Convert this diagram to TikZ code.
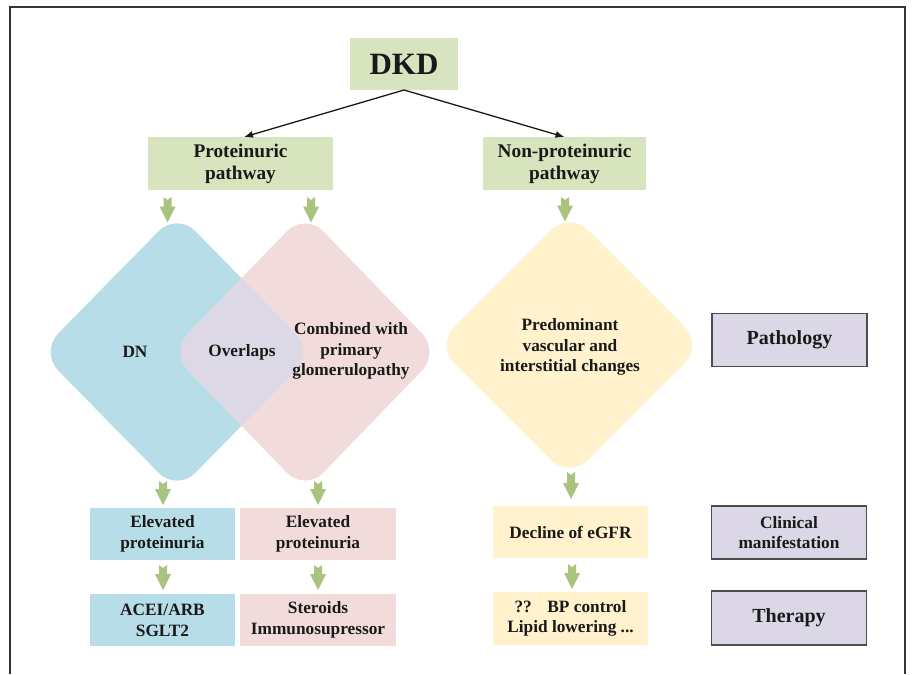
\documentclass[tikz,border=0pt]{standalone}
\usepackage{fontspec}
\setmainfont{Liberation Serif}
\usetikzlibrary{shapes.geometric,arrows.meta,calc}

\definecolor{boxgreen}{HTML}{D7E4BD}
\definecolor{dnblue}{HTML}{B7DEE8}
\definecolor{gppink}{HTML}{F2DCDB}
\definecolor{olap}{HTML}{DDD8E6}
\definecolor{vsyellow}{HTML}{FFF2CC}
\definecolor{lavender}{HTML}{DCD7E6}
\definecolor{arrowgreen}{HTML}{A9C47F}

\newcommand{\blockarrow}[2]{%
  \fill[arrowgreen] (#1) -- ++(-4,-3) -- ($(#2)+(-4,-16)$) -- ($(#2)+(-8,-16)$) -- (#2)
    -- ($(#2)+(8,-16)$) -- ($(#2)+(4,-16)$) -- ($(#1)+(4,-3)$) -- cycle;}

\begin{document}
\begin{tikzpicture}[x=1pt,y=-1pt,
    every node/.style={text=black!90,inner sep=0pt,outer sep=0pt},
    topbox/.style={rectangle,fill=boxgreen,align=center,
      font=\fontsize{19.3}{22}\selectfont\bfseries},
    box/.style={rectangle,align=center,minimum height=52pt,
      font=\fontsize{17.3}{20.7}\selectfont\bfseries},
    dmd/.style={diamond,rounded corners=26pt},
    label/.style={rectangle,fill=lavender,draw=black!70,line width=1.3pt,
      minimum width=155pt,minimum height=53pt,align=center},
    txt/.style={align=center,font=\fontsize{17.3}{20.7}\selectfont\bfseries}]
  \useasboundingbox (0,0) rectangle (912,674);
  \draw[line width=1.5pt,black!80] (10,674) -- (10,7) -- (905,7) -- (905,674);

  \node[topbox,minimum width=108pt,minimum height=52pt,
    font=\fontsize{31}{36}\selectfont\bfseries] (dkd) at (404,64) {DKD};
  \node[topbox,minimum width=185pt,minimum height=53pt] (prot) at (240.5,163.5) {Proteinuric\\pathway};
  \node[topbox,minimum width=163pt,minimum height=53pt] (nonprot) at (564.5,163.5) {Non-proteinuric\\pathway};

  \draw[line width=1.3pt,black!90,-{Latex[length=9pt,width=7pt]}] (dkd.south) -- ($(prot.north)+(3.5,0)$);
  \draw[line width=1.3pt,black!90,-{Latex[length=9pt,width=7pt]}] (dkd.south) -- (nonprot.north);

  \node[dmd,fill=dnblue,minimum width=274pt,minimum height=279pt] (dn) at (177,352) {};
  \node[dmd,fill=gppink,minimum width=270pt,minimum height=279pt] (gp) at (305,352) {};
  \begin{scope}
    \clip[rounded corners=26pt] (dn.north) -- (dn.east) -- (dn.south) -- (dn.west) -- cycle;
    \fill[olap,rounded corners=26pt] (gp.north) -- (gp.east) -- (gp.south) -- (gp.west) -- cycle;
  \end{scope}
  \node[dmd,fill=vsyellow,minimum width=267pt,minimum height=267pt] (vs) at (569.5,345) {};

  \node[txt] (dntext) at (135,352) {DN};
  \node[txt] (olaptext) at (242,352) {Overlaps};
  \node[txt] (gptext) at (351,351) {Combined with\\primary\\glomerulopathy};
  \node[txt] (vstext) at (570,347) {Predominant\\vascular and\\interstitial changes};

  \node[box,fill=dnblue,minimum width=145pt] (ep1) at (162.5,534) {Elevated\\proteinuria};
  \node[box,fill=gppink,minimum width=156pt] (ep2) at (318,534) {Elevated\\proteinuria};
  \node[box,fill=vsyellow,minimum width=155pt] (egfr) at (570.5,532) {Decline of eGFR};
  \node[box,fill=dnblue,minimum width=145pt] (drug1) at (162.5,620) {ACEI/ARB\\SGLT2};
  \node[box,fill=gppink,minimum width=156pt] (drug2) at (318,620) {Steroids\\Immunosupressor};
  \node[box,fill=vsyellow,minimum width=155pt,minimum height=53pt] (bp) at (570.5,618.5) {??\hspace{0.9em}BP control\\Lipid lowering ...};

  \node[label,font=\fontsize{20}{24}\selectfont\bfseries] (path) at (789.5,340) {Pathology};
  \node[label,font=\fontsize{17.3}{20.7}\selectfont\bfseries] (clin) at (789,532.5) {Clinical\\manifestation};
  \node[label,font=\fontsize{20}{24}\selectfont\bfseries,minimum height=54pt] (ther) at (789,618) {Therapy};

  \coordinate (a1s) at ($(prot.south)+(-73,10)$);
  \coordinate (a1e) at ($(a1s |- dn.north)+(0,10)$);
  \coordinate (a2s) at ($(prot.south)+(70.5,10)$);
  \coordinate (a2e) at ($(a2s |- gp.north)+(0,10)$);
  \coordinate (a3s) at ($(nonprot.south)+(0.5,10)$);
  \coordinate (a3e) at ($(a3s |- vs.north)+(0,10)$);
  \coordinate (a4s) at ($(dn.south)+(-14,-7.5)$);
  \coordinate (a4e) at ($(a4s |- ep1.north)+(0,-3)$);
  \coordinate (a5s) at ($(gp.south)+(13,-7.5)$);
  \coordinate (a5e) at ($(a5s |- ep2.north)+(0,-3)$);
  \coordinate (a6s) at ($(vs.south)+(1.5,-3.5)$);
  \coordinate (a6e) at ($(a6s |- egfr.north)+(0,-7)$);
  \coordinate (a7s) at ($(ep1.south)+(0.5,8)$);
  \coordinate (a7e) at ($(a7s |- drug1.north)+(0,-4)$);
  \coordinate (a8s) at ($(ep2.south)+(0,8)$);
  \coordinate (a8e) at ($(a8s |- drug2.north)+(0,-4)$);
  \coordinate (a9s) at ($(egfr.south)+(1.5,9)$);
  \coordinate (a9e) at ($(a9s |- bp.north)+(0,-3)$);
  \blockarrow{a1s}{a1e}
  \blockarrow{a2s}{a2e}
  \blockarrow{a3s}{a3e}
  \blockarrow{a4s}{a4e}
  \blockarrow{a5s}{a5e}
  \blockarrow{a6s}{a6e}
  \blockarrow{a7s}{a7e}
  \blockarrow{a8s}{a8e}
  \blockarrow{a9s}{a9e}
\end{tikzpicture}
\end{document}
